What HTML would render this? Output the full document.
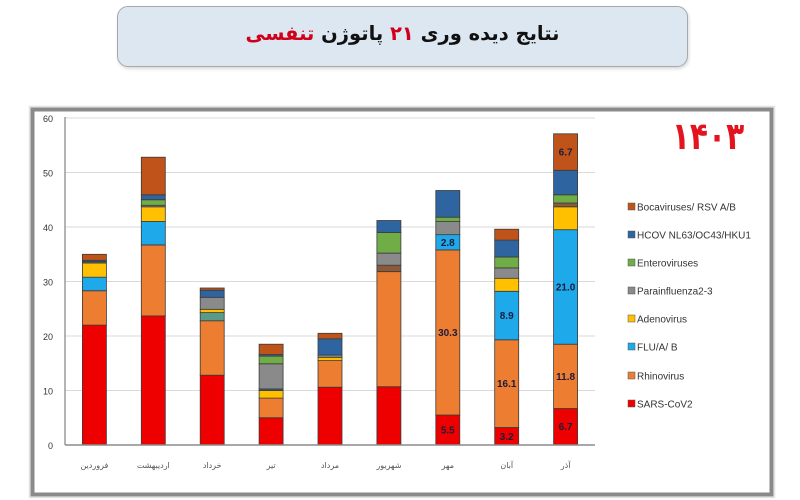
<!DOCTYPE html>
<html>
<head>
<meta charset="utf-8">
<style>
  html,body{margin:0;padding:0;background:#fff;}
  body{width:800px;height:500px;overflow:hidden;position:relative;font-family:"Liberation Sans","DejaVu Sans",sans-serif;}
  .title{position:absolute;left:117px;top:6px;width:571px;height:61px;box-sizing:border-box;border:1.5px solid #a8a8a8;border-radius:11px;background:#dde7f1;box-shadow:1px 2px 3px rgba(0,0,0,0.15);}
  .title div{position:absolute;left:0;right:0;top:15px;text-align:center;direction:rtl;font-family:"DejaVu Sans",sans-serif;font-weight:bold;font-size:19.5px;color:#111;white-space:nowrap;}
  .red{color:#d0001a;}
</style>
</head>
<body>
<div class="title"><div>نتایج دیده وری <span class="red">۲۱</span> پاتوژن <span class="red">تنفسی</span></div></div>

<svg width="800" height="500" style="position:absolute;left:0;top:0" xmlns="http://www.w3.org/2000/svg">
  <!-- frame -->
  <rect x="29.5" y="106.5" width="745" height="391" fill="none" stroke="#e2e2e2" stroke-width="1.5"/>
  <rect x="32.5" y="109.5" width="739" height="385" fill="#fff" stroke="#8a8a8a" stroke-width="4"/>

  <!-- gridlines -->
  <g stroke="#dadada" stroke-width="1">
    <line x1="65" y1="118" x2="595" y2="118"/>
    <line x1="65" y1="172.5" x2="595" y2="172.5"/>
    <line x1="65" y1="227" x2="595" y2="227"/>
    <line x1="65" y1="281.5" x2="595" y2="281.5"/>
    <line x1="65" y1="336" x2="595" y2="336"/>
    <line x1="65" y1="390.5" x2="595" y2="390.5"/>
  </g>
  <line x1="65" y1="117" x2="65" y2="445" stroke="#8c8c8c" stroke-width="1.3"/>

  <!-- y labels -->
  <g font-family="Liberation Sans, sans-serif" font-size="9" fill="#333" text-anchor="end">
    <text x="53" y="122">60</text>
    <text x="53" y="176.5">50</text>
    <text x="53" y="231">40</text>
    <text x="53" y="285.5">30</text>
    <text x="53" y="340">20</text>
    <text x="53" y="394.5">10</text>
    <text x="53" y="449">0</text>
  </g>

  <g id="bars" stroke="#3a3a3a" stroke-width="0.8"></g>
  <line x1="65" y1="445" x2="595" y2="445" stroke="#8c8c8c" stroke-width="1.5"/>
  <g id="labels" font-family="Liberation Sans, sans-serif" font-size="10" font-weight="bold" fill="#1c1c3a" text-anchor="middle"></g>

  <!-- categories -->
  <g font-family="DejaVu Sans, sans-serif" font-size="8" fill="#555" text-anchor="middle">
    <text x="94.4" y="468">فروردین</text>
    <text x="153.3" y="468">اردیبهشت</text>
    <text x="212.2" y="468">خرداد</text>
    <text x="271.1" y="468">تیر</text>
    <text x="330" y="468">مرداد</text>
    <text x="388.9" y="468">شهریور</text>
    <text x="447.8" y="468">مهر</text>
    <text x="506.7" y="468">آبان</text>
    <text x="565.6" y="468">آذر</text>
  </g>

  <!-- 1403 -->
  <text x="0" y="0" transform="translate(708,149) scale(0.78,1)" text-anchor="middle" font-family="DejaVu Sans, sans-serif" font-weight="bold" font-size="38" fill="#e3141f">۱۴۰۳</text>

  <!-- legend -->
  <g font-family="Liberation Sans, sans-serif" font-size="10" fill="#333">
    <rect x="628" y="203" width="7" height="7" fill="#c0531a" stroke="#555" stroke-width="0.5"/><text x="637" y="210.5">Bocaviruses/ RSV A/B</text>
    <rect x="628" y="231" width="7" height="7" fill="#2e64a0" stroke="#555" stroke-width="0.5"/><text x="637" y="238.5">HCOV NL63/OC43/HKU1</text>
    <rect x="628" y="259" width="7" height="7" fill="#70ad47" stroke="#555" stroke-width="0.5"/><text x="637" y="266.5">Enteroviruses</text>
    <rect x="628" y="287" width="7" height="7" fill="#8a8a8a" stroke="#555" stroke-width="0.5"/><text x="637" y="294.5">Parainfluenza2-3</text>
    <rect x="628" y="315" width="7" height="7" fill="#ffc000" stroke="#555" stroke-width="0.5"/><text x="637" y="322.5">Adenovirus</text>
    <rect x="628" y="343" width="7" height="7" fill="#1da9ea" stroke="#555" stroke-width="0.5"/><text x="637" y="350.5">FLU/A/ B</text>
    <rect x="628" y="372" width="7" height="7" fill="#ed7d31" stroke="#555" stroke-width="0.5"/><text x="637" y="379.5">Rhinovirus</text>
    <rect x="628" y="400" width="7" height="7" fill="#ee0000" stroke="#555" stroke-width="0.5"/><text x="637" y="407.5">SARS-CoV2</text>
  </g>
</svg>

<script>
(function(){
  var R="#ee0000",O="#ed7d31",F="#1da9ea",Y="#ffc000",G="#8a8a8a",E="#70ad47",H="#2e64a0",B="#c0531a",T="#5a9a8a",D="#8a5a3a";
  var data=[
    [[22,R],[6.3,O],[2.5,F],[2.6,Y],[0.2,E],[0.3,H],[1.1,B]],
    [[23.7,R],[13.0,O],[4.3,F],[2.7,Y],[0.3,G],[1.0,E],[0.9,H],[6.9,B]],
    [[12.8,R],[10.0,O],[1.5,T],[0.6,Y],[2.2,G],[1.3,H],[0.4,B]],
    [[5.0,R],[3.6,O],[1.4,Y],[0.3,H],[4.6,G],[1.4,E],[0.3,H],[1.9,B]],
    [[10.6,R],[4.9,O],[0.6,Y],[0.4,G],[3.0,H],[1.0,B]],
    [[10.7,R],[21.1,O],[1.2,D],[2.2,G],[3.8,E],[2.2,H]],
    [[5.5,R],[30.3,O],[2.8,F],[2.4,G],[0.8,E],[4.9,H]],
    [[3.2,R],[16.1,O],[8.9,F],[2.4,Y],[1.9,G],[2.0,E],[3.1,H],[2.0,B]],
    [[6.7,R],[11.8,O],[21.0,F],[4.2,Y],[0.7,D],[1.5,E],[4.5,H],[6.7,B]]
  ];
  var labels={6:[0,1,2],7:[0,1,2],8:[0,1,2,7]};
  var ns="http://www.w3.org/2000/svg";
  var g=document.getElementById("bars"),lg=document.getElementById("labels");
  function y(v){return 445-5.45*v;}
  for(var i=0;i<data.length;i++){
    var cx=94.4+i*58.9,w=24,acc=0;
    for(var j=0;j<data[i].length;j++){
      var v=data[i][j][0],c=data[i][j][1];
      var r=document.createElementNS(ns,"rect");
      r.setAttribute("x",(cx-w/2).toFixed(1));
      r.setAttribute("y",y(acc+v).toFixed(1));
      r.setAttribute("width",w);
      r.setAttribute("height",(5.45*v).toFixed(1));
      r.setAttribute("fill",c);
      g.appendChild(r);
      if(labels[i]&&labels[i].indexOf(j)>=0){
        var t=document.createElementNS(ns,"text");
        t.setAttribute("x",cx.toFixed(1));
        t.setAttribute("y",(y(acc+v/2)+3.5).toFixed(1));
        t.textContent=v.toFixed(1);
        lg.appendChild(t);
      }
      acc+=v;
    }
  }
})();
</script>
</body>
</html>
